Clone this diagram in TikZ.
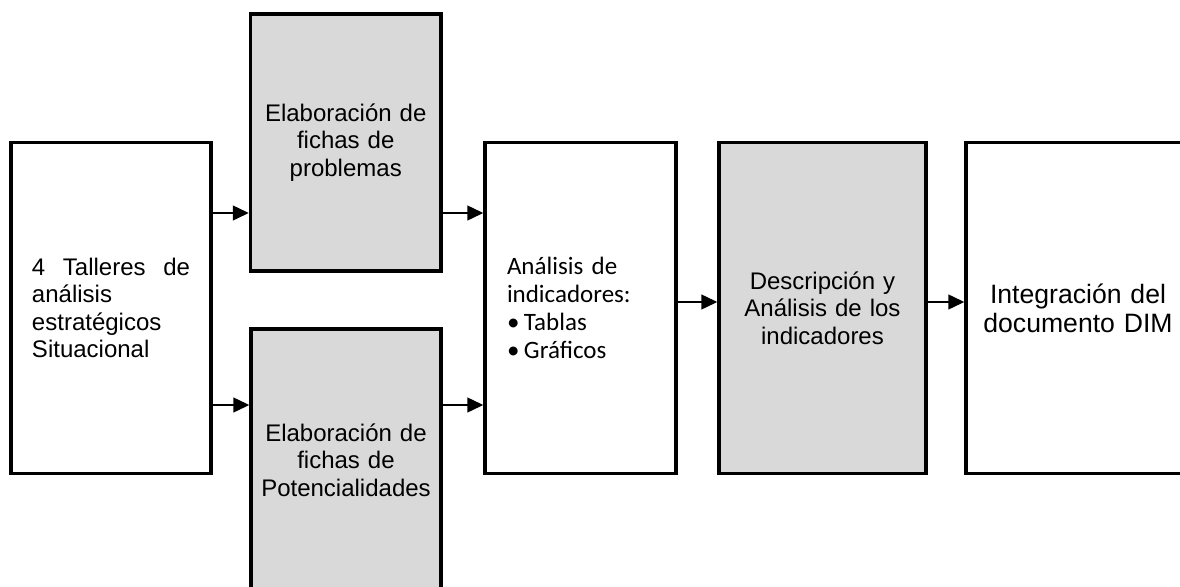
\documentclass[tikz,border=0pt]{standalone}
\usepackage{fontspec}
\setmainfont{Liberation Sans}
\newfontfamily\calibrifont{Carlito}
\usetikzlibrary{arrows.meta}
\colorlet{boxgray}{black!15}
\tikzset{
  caja/.style={draw, line width=1.75pt, inner sep=0pt, minimum height=165.5pt,
    font=\fontsize{12}{13.7}\selectfont},
  cajagris/.style={caja, fill=boxgray},
  flecha/.style={-{Triangle[length=8pt,width=7.5pt]}, line width=0.75pt},
}
\begin{document}
\begin{tikzpicture}[x=0.5pt,y=0.5pt]
      \useasboundingbox (0,0) rectangle (1180,586);
      \clip (0,0) rectangle (1180,586);
      \draw
        (111,278) node[caja, minimum width=100pt, text width=79pt, align=left] (talleres)
          {\makebox[79pt][s]{4\hfill Talleres\hfill de}\\análisis\\estratégicos\\Situacional}
        (345.75,443.5) node[cajagris, minimum width=95.25pt, minimum height=128.5pt,
          text width=90pt, align=center] (problemas)
          {Elaboración de\\fichas de\\problemas}
        (346,126) node[cajagris, overlay, minimum width=95pt, minimum height=131pt,
          text width=90pt, align=center] (potencialidades)
          {Elaboración de\\fichas de\\Potencialidades}
        (580.5,278) node[caja, minimum width=95.5pt, text width=73.5pt, align=left,
          font=\calibrifont\fontsize{12.5}{14}\selectfont] (indicadores)
          {Análisis de\\indicadores:\\\makebox[8.5pt][l]{•}Tablas\\\makebox[8.5pt][l]{•}Gráficos}
        (822.5,278) node[cajagris, minimum width=103.5pt, text width=98pt, align=center] (descripcion)
          {Descripción y\\Análisis de los\\indicadores}
        (1078,278) node[caja, overlay, minimum width=112pt, text width=106pt, align=center,
          font=\fontsize{13.3}{14.6}\selectfont] (integracion)
          {Integración del\\documento DIM};
      \coordinate (f1) at (0,373);
      \coordinate (f2) at (0,181);
      \coordinate (f3) at (0,284);
      \begin{scope}[flecha]
        \draw (talleres.east |- f1) to (problemas.west |- f1);
        \draw (talleres.east |- f2) to (potencialidades.west |- f2);
        \draw (problemas.east |- f1) to (indicadores.west |- f1);
        \draw (potencialidades.east |- f2) to (indicadores.west |- f2);
        \draw (indicadores.east |- f3) to (descripcion.west |- f3);
        \draw (descripcion.east |- f3) to (integracion.west |- f3);
      \end{scope}
    \end{tikzpicture}
\end{document}
